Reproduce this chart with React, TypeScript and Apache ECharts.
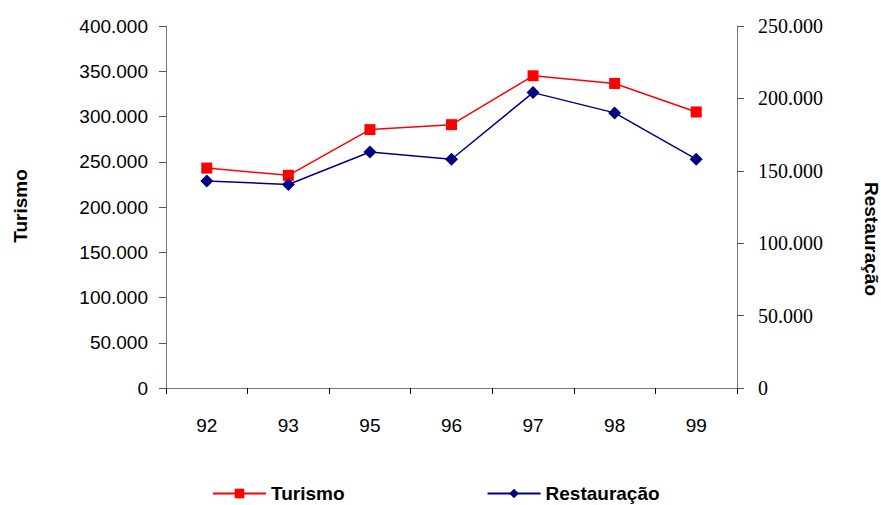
import React, { useEffect, useRef } from "react";
import * as echarts from "echarts";

const years = ["92", "93", "95", "96", "97", "98", "99"];
const turismo = [243000, 235000, 285500, 291000, 345000, 336500, 305000];
const restauracao = [143000, 140500, 163000, 158000, 204000, 190000, 158000];
const leftMax = 400000;
const rightMax = 250000;
const step = 50000;

const fmt = (v: number) => String(Math.round(v)).replace(/\B(?=(\d{3})+(?!\d))/g, ".");

export default function App() {
  const ref = useRef<HTMLDivElement>(null);
  useEffect(() => {
    if (!ref.current) return;
    const chart = echarts.init(ref.current, null, { renderer: "svg" });
    const sans = "'Liberation Sans', Arial, sans-serif";
    const serif = "'Liberation Serif', 'Times New Roman', serif";
    chart.setOption({
      animation: false,
      backgroundColor: "#fff",
      grid: { left: 166, right: 144, top: 26, bottom: 117, containLabel: false },
      xAxis: {
        type: "category",
        data: years,
        boundaryGap: true,
        axisLine: { lineStyle: { color: "#777", width: 1 } },
        axisTick: { show: true, length: 6, lineStyle: { color: "#000" } },
        axisLabel: { color: "#000", fontFamily: sans, fontSize: 19, margin: 28 },
        splitLine: { show: false },
      },
      yAxis: [
        {
          type: "value",
          min: 0,
          max: leftMax,
          interval: step,
          position: "left",
          axisLine: { show: true, lineStyle: { color: "#777", width: 1 } },
          axisTick: { show: true, length: 7, lineStyle: { color: "#555" } },
          axisLabel: { color: "#000", fontFamily: sans, fontSize: 19, margin: 18, formatter: fmt },
          splitLine: { show: false },
        },
        {
          type: "value",
          min: 0,
          max: rightMax,
          interval: step,
          position: "right",
          axisLine: { show: true, lineStyle: { color: "#777", width: 1 } },
          axisTick: { show: true, length: 7, lineStyle: { color: "#555" } },
          axisLabel: { color: "#000", fontFamily: serif, fontSize: 20, margin: 21, formatter: fmt },
          splitLine: { show: false },
        },
      ],
      legend: {
        left: 207,
        top: 479,
        itemWidth: 53,
        itemHeight: 12,
        itemGap: 142,
        textStyle: { color: "#000", fontFamily: sans, fontSize: 19, fontWeight: "bold" },
        data: ["Turismo", "Restauração"],
      },
      series: [
        {
          name: "Turismo",
          type: "line",
          yAxisIndex: 0,
          data: turismo,
          symbol: "rect",
          symbolSize: 11,
          itemStyle: { color: "#ff0000" },
          lineStyle: { color: "#ff0000", width: 1.5 },
        },
        {
          name: "Restauração",
          type: "line",
          yAxisIndex: 1,
          data: restauracao,
          symbol: "diamond",
          symbolSize: 13,
          itemStyle: { color: "#000080" },
          lineStyle: { color: "#000080", width: 1.5 },
        },
      ],
      graphic: [
        {
          type: "text",
          x: 20,
          y: 206,
          rotation: Math.PI / 2,
          style: {
            text: "Turismo",
            align: "center",
            verticalAlign: "middle",
            fill: "#000",
            font: "bold 19px 'Liberation Sans', Arial, sans-serif",
          },
        },
        {
          type: "text",
          x: 871,
          y: 239,
          rotation: -Math.PI / 2,
          style: {
            text: "Restauração",
            align: "center",
            verticalAlign: "middle",
            fill: "#000",
            font: "bold 19px 'Liberation Sans', Arial, sans-serif",
          },
        },
      ],
    });
    return () => chart.dispose();
  }, []);
  return <div ref={ref} style={{ width: 881, height: 505, position: "absolute", left: 0, top: 0 }} />;
}
